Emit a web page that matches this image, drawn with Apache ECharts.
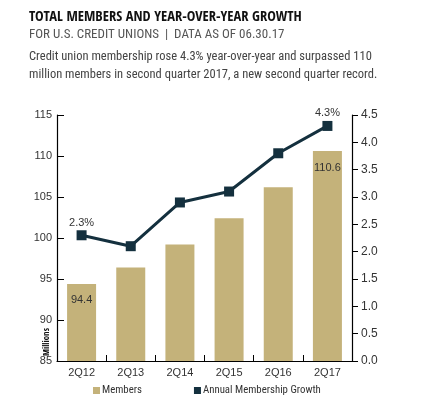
<!DOCTYPE html>
<html>
<head>
<meta charset="utf-8">
<script src="https://cdn.jsdelivr.net/npm/echarts@6/dist/echarts.min.js"></script>
<style>
  html, body { margin: 0; padding: 0; background: #fff; }
  #chart { width: 441px; height: 397px; }
</style>
</head>
<body>
<div id="chart"></div>
<script>
const quarters = ['2Q12', '2Q13', '2Q14', '2Q15', '2Q16', '2Q17'];
const members = [94.4, 96.4, 99.2, 102.4, 106.2, 110.6]; // millions
const growth = [2.3, 2.1, 2.9, 3.1, 3.8, 4.3]; // percent yoy
const labeledIdx = [0, 5]; // only first and last values are annotated

const BAR = '#c4b27a';
const LINE = '#14303e';
const TXT = '#333';
const cond = '"Roboto Condensed", sans-serif';
const condB = '"Open Sans Condensed", "Roboto Condensed", sans-serif';
const plain = '"Liberation Sans", Arial, sans-serif';

const chart = echarts.init(document.getElementById('chart'));

const pick = (arr, fmt) => arr.map((v, i) => ({
  value: v,
  label: { show: labeledIdx.indexOf(i) >= 0, formatter: fmt }
}));

chart.setOption({
  animation: false,
  title: [
    {
      text: 'TOTAL MEMBERS AND YEAR-OVER-YEAR GROWTH',
      left: 24, top: 5,
      textStyle: { fontFamily: condB, fontWeight: 'bold', fontSize: 14.5, color: '#111' }
    },
    {
      text: 'FOR U.S. CREDIT UNIONS  |  DATA AS OF 06.30.17',
      left: 24, top: 23,
      textStyle: { fontFamily: cond, fontWeight: 'normal', fontSize: 13, color: '#555' }
    },
    {
      text: 'Credit union membership rose 4.3% year-over-year and surpassed 110\nmillion members in second quarter 2017, a new second quarter record.',
      left: 24, top: 43,
      textStyle: { fontFamily: cond, fontWeight: 'normal', fontSize: 12.5, lineHeight: 18, color: '#444' }
    }
  ],
  legend: {
    top: 380, left: 88,
    itemWidth: 7, itemHeight: 7, itemGap: 52,
    icon: 'rect',
    textStyle: { fontFamily: cond, fontSize: 10.8, color: TXT, padding: [0, 0, 0, -3] },
    data: ['Members', 'Annual Membership Growth']
  },
  grid: { left: 57, right: 89, top: 115, bottom: 36 },
  xAxis: {
    type: 'category',
    data: quarters,
    axisLine: { lineStyle: { color: '#000', width: 1.2 } },
    axisTick: { show: true, inside: true, length: 6, lineStyle: { color: '#000' } },
    axisLabel: { color: TXT, fontSize: 11, margin: 6, fontFamily: plain }
  },
  yAxis: [
    {
      type: 'value', min: 85, max: 115, interval: 5,
      splitLine: { show: false },
      axisLine: { show: true, lineStyle: { color: '#000', width: 1.2 } },
      axisTick: { show: true, inside: true, length: 7, lineStyle: { color: '#000' } },
      axisLabel: { color: TXT, fontSize: 11, margin: 5, fontFamily: plain }
    },
    {
      type: 'value', min: 0, max: 4.5, interval: 0.5,
      position: 'right',
      splitLine: { show: false },
      axisLine: { show: true, lineStyle: { color: '#000', width: 1.2 } },
      axisTick: { show: true, length: 6, lineStyle: { color: '#000' } },
      axisLabel: { color: TXT, fontSize: 12, margin: 9, formatter: v => v.toFixed(1), fontFamily: plain }
    }
  ],
  graphic: [
    {
      type: 'text', x: 47, y: 342, rotation: Math.PI / 2,
      style: { text: 'Millions', fontFamily: condB, fontWeight: 'bold', fontSize: 9, fill: '#111', align: 'center', verticalAlign: 'middle' }
    }
  ],
  series: [
    {
      name: 'Members',
      type: 'bar',
      yAxisIndex: 0,
      barWidth: 29,
      itemStyle: { color: BAR },
      label: { position: 'insideTop', distance: 11, color: TXT, fontSize: 11, fontFamily: plain },
      data: pick(members, p => p.value.toFixed(1))
    },
    {
      name: 'Annual Membership Growth',
      type: 'line',
      yAxisIndex: 1,
      symbol: 'rect',
      symbolSize: 10,
      lineStyle: { color: LINE, width: 3 },
      itemStyle: { color: LINE },
      label: { position: 'top', distance: 2, color: TXT, fontSize: 11, fontFamily: plain },
      data: pick(growth, p => p.value.toFixed(1) + '%')
    }
  ]
});
</script>
</body>
</html>
